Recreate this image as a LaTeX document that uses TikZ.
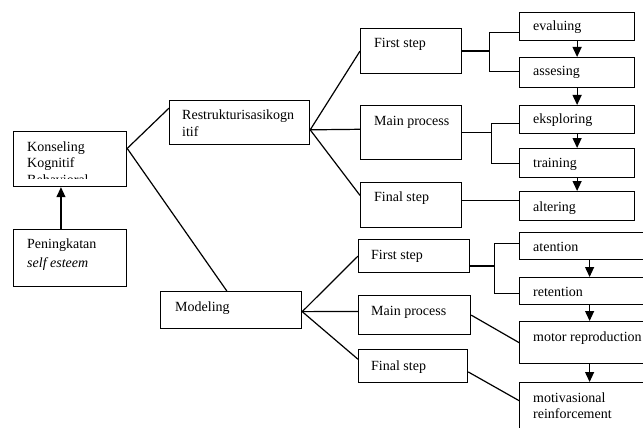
\documentclass[tikz,border=0pt]{standalone}
\usepackage{fontspec}
\setmainfont{Liberation Serif}
\usetikzlibrary{arrows.meta, calc}

\tikzset{
  box/.style={draw, line width=1.2pt, anchor=north west, inner sep=0pt},
  txt/.style={anchor=base west, inner sep=0pt, font=\fontsize{14}{16}\selectfont},
  arr/.style={line width=1.2pt, -{Triangle[length=10pt,width=9pt]}},
  link/.style={line width=1.2pt}
}

\begin{document}
\begin{tikzpicture}
    [x=1pt, y=-1pt]
    \useasboundingbox (0,0) rectangle (643,428);
    \clip (0,0) rectangle (643,428);
    % left part
    \node[box, minimum width=113pt, minimum height=55pt] (kbk) at (13,131) {};
    \node[box, minimum width=113pt, minimum height=57pt] (psb) at (13,229) {};
    \node[box, minimum width=140pt, minimum height=44pt] (rk) at (169,100) {};
    \node[box, minimum width=141pt, minimum height=37pt] (md) at (160,291) {};
    % steps
    \node[box, minimum width=101pt, minimum height=45pt] (fa) at (360,28) {};
    \node[box, minimum width=101pt, minimum height=54pt] (ma) at (360,105) {};
    \node[box, minimum width=101pt, minimum height=45pt] (la) at (360,182) {};
    \node[box, minimum width=111pt, minimum height=33pt] (fb) at (358,239) {};
    \node[box, minimum width=112pt, minimum height=39pt] (mb) at (358,295) {};
    \node[box, minimum width=109pt, minimum height=33pt] (lb) at (358,349) {};
    % right column
    \node[box, minimum width=115pt, minimum height=28pt] (ev) at (519,12) {};
    \node[box, minimum width=115pt, minimum height=30pt] (as) at (519,57) {};
    \node[box, minimum width=115pt, minimum height=28pt] (ek) at (519,105) {};
    \node[box, minimum width=115pt, minimum height=29pt] (tr) at (519,148) {};
    \node[box, minimum width=115pt, minimum height=29pt] (al) at (519,191) {};
    \node[box, minimum width=140pt, minimum height=27pt] (at) at (519,232) {};
    \node[box, minimum width=140pt, minimum height=27pt] (re) at (519,277) {};
    \node[box, minimum width=140pt, minimum height=42pt] (mr) at (519,321) {};
    \node[box, minimum width=140pt, minimum height=63pt] (mv) at (519,382) {};

    % text
    \node[txt] (t1) at (27,151) {Konseling};
    \node[txt] (t2) at (27,167) {Kognitif};
    \begin{scope}
      \clip (13,131) rectangle (126,178);
      \node[txt] (t3) at (27,184) {Behavioral};
    \end{scope}
    \node[txt] (t4) at (27,248) {Peningkatan};
    \node[txt] (t5) at (27,267) {\itshape self esteem};
    \node[txt] (t6) at (182,119) {Restrukturisasikogn};
    \node[txt] (t7) at (182,136) {itif};
    \node[txt] (t8) at (175,311) {Modeling};
    \node[txt] (t9) at (374,48) {First step};
    \node[txt] (t10) at (374,125) {Main process};
    \node[txt] (t11) at (374,201) {Final step};
    \node[txt] (t12) at (371,259) {First step};
    \node[txt] (t13) at (371,315) {Main process};
    \node[txt] (t14) at (371,370) {Final step};
    \node[txt] (t15) at (533,31) {evaluing};
    \node[txt] (t16) at (533,76) {assesing};
    \node[txt] (t17) at (533,124) {eksploring};
    \node[txt] (t18) at (533,167) {training};
    \node[txt] (t19) at (533,211) {altering};
    \node[txt] (t20) at (533,251) {atention};
    \node[txt] (t21) at (533,296) {retention};
    \node[txt] (t22) at (533,341) {motor reproduction};
    \node[txt] (t23) at (533,402) {motivasional};
    \node[txt] (t24) at (533,418) {reinforcement};

    % connectors
    \draw[arr] ($(psb.north west)!0.42!(psb.north east)$) -- ($(kbk.south west)!0.42!(kbk.south east)$);
    \coordinate (kfan) at ($(kbk.north east)!0.31!(kbk.south east)$);
    \draw[link] (kfan) -- ($(rk.north west)!0.18!(rk.south west)$);
    \draw[link] (kfan) -- ($(md.north west)!0.47!(md.north east)$);

    \coordinate (rfan) at ($(rk.north east)!0.66!(rk.south east)$);
    \draw[link] (rfan) -- (fa.west);
    \draw[link] (rfan) -- ($(ma.north west)!0.44!(ma.south west)$);
    \draw[link] (rfan) -- ($(la.north west)!0.29!(la.south west)$);

    \coordinate (mfan) at ($(md.north east)!0.54!(md.south east)$);
    \draw[link] (mfan) -- (fb.west);
    \draw[link] (mfan) -- ($(mb.north west)!0.41!(mb.south west)$);
    \draw[link] (mfan) -- ($(lb.north west)!0.3!(lb.south west)$);

    \draw[link] (fa.east) -- ++(27,0) coordinate (fork1);
    \draw[link] ($(ev.north west)!0.7!(ev.south west)$) -| (fork1) |- ($(as.north west)!0.47!(as.south west)$);
    \draw[link] (ma.east) -- ++(29,0) coordinate (fork2);
    \draw[link] ($(ek.north west)!0.64!(ek.south west)$) -| (fork2) |- ($(tr.north west)!0.52!(tr.south west)$);
    \draw[link] ($(al.north west)!0.31!(al.south west)$) coordinate (alin) -- (alin -| la.east);

    \draw[link] ($(fb.north east)!0.79!(fb.south east)$) -- ++(24,0) coordinate (fork3);
    \draw[link] ($(at.north west)!0.41!(at.south west)$) -| (fork3) |- ($(re.north west)!0.59!(re.south west)$);
    \draw[link] (mb.east) -- (mr.west);
    \draw[link] ($(lb.north east)!0.67!(lb.south east)$) -- ($(mv.north west)!0.29!(mv.south west)$);

    \draw[arr] (ev.south) -- (as.north);
    \draw[arr] (as.south) -- (ek.north);
    \draw[arr] (ek.south) -- (tr.north);
    \draw[arr] (tr.south) -- (al.north);
    \draw[arr] (at.south) -- (re.north);
    \draw[arr] (re.south) -- (mr.north);
    \draw[arr] (mr.south) -- (mv.north);
\end{tikzpicture}
\end{document}
